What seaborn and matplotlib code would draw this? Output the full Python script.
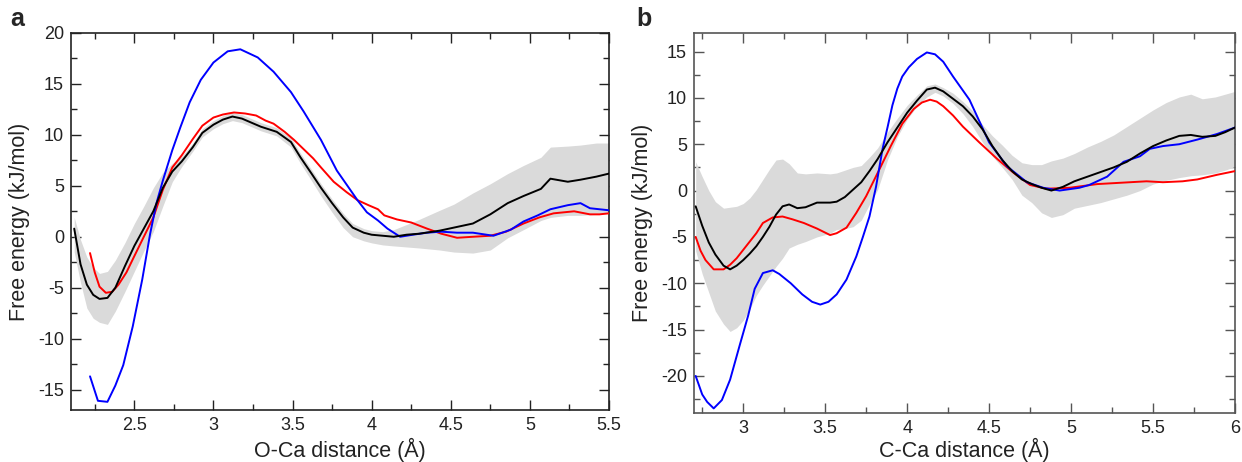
import numpy as np
import pandas as pd
import matplotlib
matplotlib.use("Agg")
import matplotlib.pyplot as plt
from matplotlib.ticker import MultipleLocator
import seaborn as sns

# ---- panel a: O-Ca distance ----
a_x = [2.12, 2.16, 2.20, 2.24, 2.28, 2.33, 2.38, 2.44, 2.50, 2.56, 2.62, 2.68, 2.74, 2.80, 2.87, 2.93,
       3.00, 3.06, 3.12, 3.18, 3.24, 3.30, 3.40, 3.49, 3.55, 3.62, 3.68, 3.75, 3.82, 3.88, 3.95, 4.00,
       4.07, 4.14, 4.22, 4.30, 4.43, 4.52, 4.64, 4.75, 4.86, 4.96, 5.07, 5.13, 5.24, 5.32, 5.42, 5.50]
a_black = [0.8, -2.7, -4.7, -5.7, -6.1, -6.0, -5.0, -2.9, -0.9, 0.8, 2.5, 4.8, 6.4, 7.4, 8.8, 10.2,
           11.0, 11.5, 11.8, 11.6, 11.2, 10.8, 10.3, 9.3, 7.8, 6.2, 4.8, 3.3, 1.9, 0.9, 0.4, 0.2,
           0.1, 0.0, 0.2, 0.3, 0.6, 0.9, 1.3, 2.2, 3.3, 4.0, 4.7, 5.7, 5.4, 5.6, 5.9, 6.2]
a_hi = [1.9, -0.3, -2.0, -3.0, -3.6, -3.4, -2.3, -0.6, 1.3, 3.0, 4.8, 6.3, 7.2, 7.9, 9.2, 10.6,
        11.4, 11.9, 12.2, 12.0, 11.6, 11.2, 10.7, 9.7, 8.2, 6.6, 5.2, 3.7, 2.3, 1.3, 0.8, 0.6,
        0.5, 0.7, 1.2, 1.7, 2.6, 3.2, 4.3, 5.2, 6.2, 7.0, 7.8, 8.8, 8.9, 9.0, 9.2, 9.2]
a_lo = [-1.5, -4.5, -7.0, -8.0, -8.4, -8.6, -7.3, -5.4, -3.4, -1.4, 0.5, 3.0, 5.4, 6.9, 8.4, 9.8,
        10.6, 11.1, 11.4, 11.2, 10.8, 10.4, 9.9, 8.8, 7.2, 5.5, 4.0, 2.4, 0.9, 0.0, -0.4, -0.6,
        -0.8, -0.9, -1.0, -1.1, -1.3, -1.5, -1.6, -1.3, -0.1, 0.7, 1.6, 1.9, 2.1, 2.1, 2.2, 2.3]

a_red_x = [2.22, 2.25, 2.28, 2.32, 2.36, 2.40, 2.45, 2.50, 2.56, 2.62, 2.68, 2.74, 2.80, 2.87, 2.93,
           3.00, 3.06, 3.13, 3.20, 3.27, 3.33, 3.38, 3.45, 3.51, 3.57, 3.63, 3.68, 3.76, 3.84, 3.91,
           3.98, 4.04, 4.08, 4.16, 4.25, 4.35, 4.44, 4.54, 4.64, 4.75, 4.85, 4.96, 5.06, 5.15, 5.28,
           5.38, 5.44, 5.50]
a_red = [-1.6, -3.5, -4.9, -5.5, -5.4, -4.7, -3.5, -1.9, 0.0, 1.9, 4.6, 6.8, 8.0, 9.6, 10.9,
         11.7, 12.0, 12.2, 12.1, 11.9, 11.4, 11.1, 10.3, 9.5, 8.6, 7.7, 6.8, 5.4, 4.4, 3.6,
         3.1, 2.7, 2.1, 1.7, 1.4, 0.8, 0.3, -0.1, 0.0, 0.1, 0.5, 1.3, 1.9, 2.3, 2.5,
         2.2, 2.2, 2.3]

a_blue_x = [2.22, 2.27, 2.33, 2.38, 2.43, 2.49, 2.55, 2.60, 2.64, 2.68, 2.74, 2.79, 2.85, 2.92, 3.00,
            3.09, 3.17, 3.28, 3.38, 3.49, 3.57, 3.68, 3.78, 3.91, 3.97, 4.04, 4.10, 4.18, 4.26, 4.35,
            4.44, 4.54, 4.64, 4.77, 4.88, 4.96, 5.05, 5.13, 5.24, 5.32, 5.38, 5.44, 5.50]
a_blue = [-13.7, -16.1, -16.2, -14.6, -12.6, -8.8, -4.2, 0.3, 3.3, 5.5, 8.5, 10.7, 13.2, 15.4, 17.1,
          18.2, 18.4, 17.6, 16.2, 14.2, 12.3, 9.5, 6.5, 3.6, 2.4, 1.6, 0.8, 0.0, 0.2, 0.4,
          0.5, 0.4, 0.4, 0.1, 0.7, 1.5, 2.1, 2.7, 3.1, 3.3, 2.8, 2.7, 2.6]

# ---- panel b: C-Ca distance ----
b_x = [2.71, 2.75, 2.79, 2.83, 2.88, 2.92, 2.96, 3.00, 3.04, 3.08, 3.12, 3.16, 3.20, 3.24, 3.28, 3.33,
       3.38, 3.45, 3.53, 3.57, 3.62, 3.67, 3.72, 3.77, 3.82, 3.88, 3.94, 4.00, 4.06, 4.12, 4.17, 4.22,
       4.28, 4.34, 4.40, 4.46, 4.52, 4.58, 4.64, 4.70, 4.76, 4.82, 4.88, 4.95, 5.02, 5.10, 5.18, 5.26,
       5.34, 5.42, 5.50, 5.58, 5.66, 5.73, 5.80, 5.88, 5.94, 6.00]
b_black = [-1.7, -3.8, -5.6, -6.9, -8.1, -8.5, -8.1, -7.5, -6.8, -6.0, -5.0, -3.9, -2.6, -1.7, -1.5, -1.9,
           -1.8, -1.3, -1.3, -1.2, -0.7, 0.1, 0.9, 2.1, 3.4, 5.2, 6.8, 8.4, 9.7, 10.9, 11.1, 10.7,
           9.9, 9.1, 8.0, 6.6, 4.8, 3.3, 2.1, 1.2, 0.7, 0.3, 0.0, 0.4, 1.0, 1.5, 2.0, 2.5,
           3.1, 4.0, 4.8, 5.4, 5.9, 6.0, 5.8, 5.9, 6.3, 6.8]
b_hi = [3.1, 1.5, 0.0, -1.2, -1.9, -1.8, -1.7, -1.4, -0.8, 0.1, 1.2, 2.3, 3.3, 3.4, 2.9, 1.9,
        1.8, 1.9, 1.8, 1.9, 2.2, 2.5, 2.7, 3.6, 4.6, 6.3, 7.8, 9.2, 10.3, 11.3, 11.5, 11.1,
        10.5, 9.6, 8.6, 7.1, 5.9, 4.9, 3.8, 3.0, 2.8, 2.8, 3.2, 3.5, 4.0, 4.7, 5.3, 6.0,
        6.9, 7.8, 8.7, 9.5, 10.1, 10.4, 9.9, 10.1, 10.4, 10.7]
b_lo = [-6.5, -9.0, -11.0, -13.0, -14.4, -15.2, -14.8, -14.0, -12.8, -11.3, -10.2, -9.2, -8.2, -7.3, -6.2, -5.8,
        -5.5, -5.0, -4.6, -4.2, -4.1, -3.9, -3.2, -1.5, 0.1, 3.3, 5.8, 7.7, 9.1, 10.1, 10.6, 10.2,
        9.4, 8.3, 6.9, 5.2, 3.7, 2.5, 1.2, -0.5, -1.3, -2.4, -2.9, -2.6, -1.9, -1.6, -1.3, -0.9,
        -0.5, 0.0, 0.7, 1.1, 1.4, 1.6, 1.7, 1.9, 2.2, 2.6]

b_red_x = [2.71, 2.74, 2.77, 2.82, 2.88, 2.92, 2.96, 3.00, 3.04, 3.08, 3.12, 3.18, 3.24, 3.30, 3.37,
           3.45, 3.53, 3.57, 3.63, 3.69, 3.75, 3.82, 3.90, 3.97, 4.04, 4.09, 4.14, 4.18, 4.22, 4.28,
           4.34, 4.44, 4.55, 4.65, 4.75, 4.85, 4.99, 5.16, 5.36, 5.46, 5.56, 5.68, 5.77, 5.89, 6.00]
b_red = [-5.0, -6.5, -7.5, -8.5, -8.5, -8.0, -7.3, -6.4, -5.5, -4.6, -3.5, -2.9, -2.8, -3.1, -3.5,
         -4.1, -4.8, -4.6, -4.0, -2.4, -0.6, 1.9, 4.8, 7.2, 8.8, 9.5, 9.8, 9.6, 9.1, 8.1,
         6.9, 5.2, 3.4, 1.9, 0.6, 0.2, 0.3, 0.7, 0.9, 1.0, 0.9, 1.0, 1.2, 1.7, 2.1]

b_blue_x = [2.71, 2.75, 2.78, 2.82, 2.87, 2.92, 2.98, 3.03, 3.07, 3.12, 3.18, 3.22, 3.29, 3.36, 3.42,
            3.47, 3.52, 3.57, 3.63, 3.69, 3.73, 3.77, 3.81, 3.85, 3.88, 3.91, 3.94, 3.97, 4.01, 4.06,
            4.12, 4.17, 4.22, 4.28, 4.38, 4.50, 4.61, 4.73, 4.83, 4.93, 5.05, 5.11, 5.22, 5.32, 5.42,
            5.48, 5.56, 5.66, 5.77, 5.89, 6.00]
b_blue = [-20.0, -22.0, -22.8, -23.5, -22.6, -20.4, -16.6, -13.5, -10.6, -8.9, -8.6, -9.0, -10.0, -11.2, -12.0,
          -12.3, -12.0, -11.2, -9.6, -7.1, -5.0, -2.8, 0.4, 4.5, 6.8, 9.2, 11.0, 12.3, 13.3, 14.2,
          14.9, 14.7, 13.9, 12.3, 9.8, 5.2, 2.6, 0.9, 0.3, 0.0, 0.3, 0.6, 1.5, 3.1, 3.7,
          4.5, 4.8, 5.0, 5.5, 6.1, 6.8]

sns.set_theme(style="ticks")
plt.rcParams["font.family"] = ["Liberation Sans", "DejaVu Sans"]

fig = plt.figure(figsize=(12.42, 4.62), dpi=100)
ax_a = fig.add_axes([0.0572, 0.1126, 0.4331, 0.8160])
ax_b = fig.add_axes([0.5588, 0.1060, 0.4356, 0.8226])

panels = [
    (ax_a, a_x, a_black, a_lo, a_hi, a_red_x, a_red, a_blue_x, a_blue,
     (2.1, 5.5), (-17, 20), "O-Ca distance (Å)", "#222222", 3),
    (ax_b, b_x, b_black, b_lo, b_hi, b_red_x, b_red, b_blue_x, b_blue,
     (2.7, 6.0), (-24, 17), "C-Ca distance (Å)", "#555555", 0.5),
]

for ax, x, blk, lo, hi, rx, ry, bx, by, xl, yl, xlab, spc, lpad in panels:
    ax.fill_between(x, lo, hi, color="#dadada", lw=0, zorder=1)
    sns.lineplot(x=rx, y=ry, ax=ax, color="#ff0000", lw=1.4, estimator=None, sort=False, zorder=3)
    sns.lineplot(x=bx, y=by, ax=ax, color="#0000ff", lw=1.4, estimator=None, sort=False, zorder=4)
    sns.lineplot(x=x, y=blk, ax=ax, color="black", lw=1.4, estimator=None, sort=False, zorder=5)
    ax.set_xlim(*xl)
    ax.set_ylim(*yl)
    ax.xaxis.set_major_locator(MultipleLocator(0.5))
    ax.xaxis.set_minor_locator(MultipleLocator(0.25))
    ax.yaxis.set_major_locator(MultipleLocator(5))
    ax.yaxis.set_minor_locator(MultipleLocator(2.5))
    ax.xaxis.set_major_formatter(matplotlib.ticker.FuncFormatter(lambda v, p: f"{v:g}"))
    ax.yaxis.set_major_formatter(matplotlib.ticker.FuncFormatter(lambda v, p: f"{v:g}"))
    ax.tick_params(which="both", direction="in", top=True, right=True, width=1.0,
                   color=spc, labelsize=13, labelcolor="#222222")
    ax.tick_params(which="major", length=7.5, pad=5)
    ax.tick_params(which="minor", length=4)
    for s in ax.spines.values():
        s.set_color(spc)
        s.set_linewidth(1.2)
    ax.set_xlabel(xlab, fontsize=15.5, color="#222222", labelpad=lpad)
    ax.set_ylabel("Free energy (kJ/mol)", fontsize=15.5, color="#222222", labelpad=6)

fig.text(0.008, 0.985, "a", fontsize=18, fontweight="bold", va="top", ha="left")
fig.text(0.512, 0.985, "b", fontsize=18, fontweight="bold", va="top", ha="left")

fig.savefig("out.png", dpi=100)
